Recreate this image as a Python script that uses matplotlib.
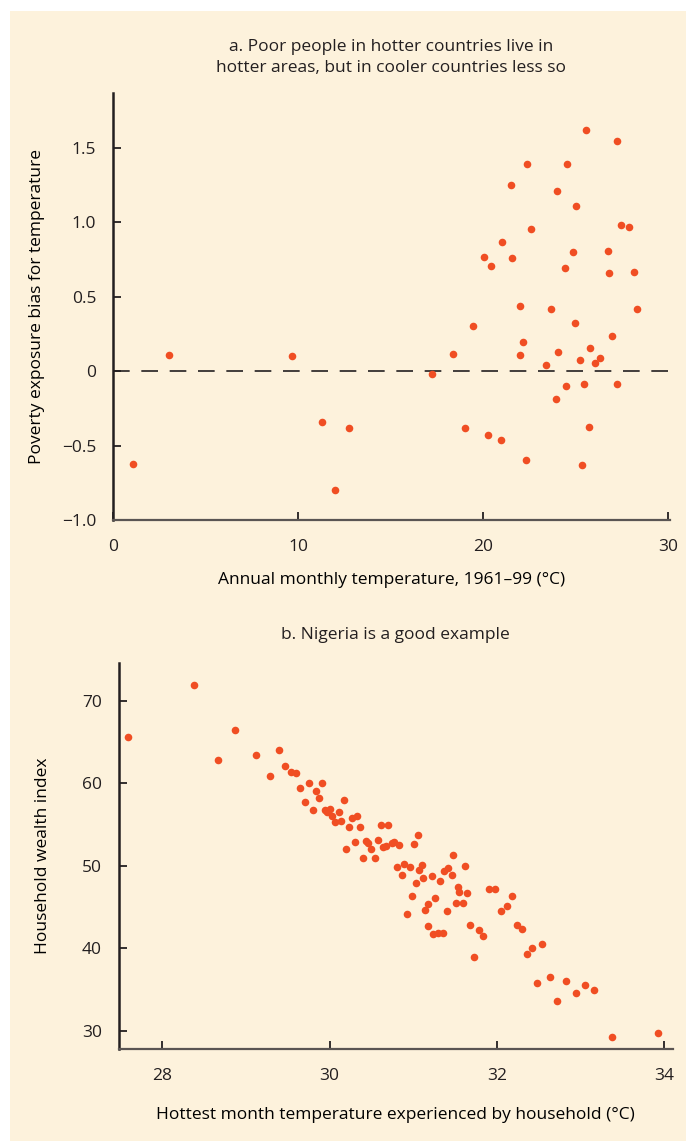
import numpy as np
import matplotlib.pyplot as plt
from matplotlib.patches import Rectangle

# panel a: country level
a_temp = [1.09, 3.05, 9.68, 11.27, 12.76, 11.97,
          25.54, 27.23, 22.38, 24.54, 21.52, 24.0, 25.0, 22.6, 27.46, 27.88,
          21.02, 20.03, 20.43, 21.58, 24.84, 24.41, 26.76, 26.78, 28.18, 28.29,
          22.0, 23.68, 24.97, 19.46, 26.94, 22.13, 18.36, 21.99, 24.03, 25.79,
          25.26, 26.31, 26.03, 23.41, 17.23, 24.48, 25.47, 27.23, 23.93, 19.01,
          20.26, 20.98, 25.70, 22.33, 25.33]
a_bias = [-0.625, 0.11, 0.103, -0.34, -0.383, -0.80,
          1.623, 1.545, 1.39, 1.394, 1.249, 1.213, 1.108, 0.955, 0.986, 0.968,
          0.87, 0.767, 0.706, 0.762, 0.80, 0.695, 0.811, 0.657, 0.666, 0.417,
          0.437, 0.415, 0.327, 0.307, 0.235, 0.195, 0.119, 0.108, 0.13, 0.155,
          0.076, 0.087, 0.052, 0.043, -0.02, -0.096, -0.083, -0.088, -0.188, -0.383,
          -0.426, -0.462, -0.372, -0.599, -0.63]

# panel b: Nigeria households
b_temp = [27.59, 28.38, 28.87, 28.67, 29.12, 29.39, 29.29, 29.47, 29.54, 29.60,
          29.65, 29.75, 29.91, 29.84, 29.71, 29.87, 29.80, 30.17, 29.95, 30.0,
          29.97, 30.03, 30.11, 30.06, 30.14, 30.27, 30.33, 30.23, 30.36, 30.2,
          30.30, 30.43, 30.46, 30.40, 30.50, 30.54, 30.58, 30.61, 30.70, 30.64,
          30.67, 30.75, 30.77, 30.83, 31.01, 31.06, 30.80, 30.89, 30.96, 30.86,
          31.10, 31.07, 31.03, 31.12, 31.22, 30.98, 30.92, 31.17, 31.14, 31.26,
          31.32, 31.37, 31.42, 31.46, 31.48, 31.62, 31.53, 31.55, 31.64, 31.51,
          31.59, 31.40, 31.18, 31.24, 31.30, 31.35, 31.68, 31.78, 31.83, 31.73,
          31.90, 31.98, 32.05, 32.12, 32.18, 32.24, 32.30, 32.36, 32.42, 32.54,
          32.48, 32.63, 32.72, 32.82, 32.94, 33.05, 33.16, 33.38, 33.93]
b_wealth = [65.6, 71.97, 66.5, 62.8, 63.4, 64.0, 60.95, 62.1, 61.4, 61.3,
            59.5, 60.0, 60.1, 59.1, 57.7, 58.2, 56.75, 58.0, 56.8, 56.9,
            56.55, 56.0, 56.5, 55.3, 55.4, 55.75, 56.0, 54.7, 54.66, 52.0,
            52.9, 53.0, 52.8, 50.9, 52.0, 51.0, 53.1, 54.9, 54.9, 52.3,
            52.4, 52.8, 52.85, 52.5, 52.6, 53.8, 49.9, 50.2, 49.9, 48.9,
            50.05, 49.45, 47.9, 48.5, 48.8, 46.3, 44.2, 45.4, 44.65, 46.1,
            48.2, 49.4, 49.7, 48.9, 51.3, 50.0, 47.4, 46.8, 46.7, 45.46,
            45.46, 44.5, 42.7, 41.8, 41.86, 41.9, 42.8, 42.2, 41.5, 39.0,
            47.15, 47.15, 44.5, 45.1, 46.4, 42.8, 42.4, 39.3, 40.0, 40.5,
            35.8, 36.5, 33.6, 36.1, 34.6, 35.6, 35.0, 29.2, 29.76]

bg = "#fdf2dc"
dot = "#f04e23"
ink = "#231f20"

plt.rcParams["font.family"] = ["Open Sans", "DejaVu Sans"]
plt.rcParams["font.size"] = 12.5
plt.rcParams["axes.titlesize"] = 12.5
plt.rcParams["text.color"] = ink
plt.rcParams["xtick.color"] = ink
plt.rcParams["ytick.color"] = ink

fig = plt.figure(figsize=(6.86, 11.41), dpi=100)
fig.patch.set_facecolor("white")
# beige panel behind both charts, white strip along top and left edge
fig.add_artist(Rectangle((10 / 686, 0), 676 / 686, 1130 / 1141,
                         transform=fig.transFigure, facecolor=bg, edgecolor="none", zorder=0))


def style(ax):
    ax.set_facecolor("none")
    for s in ["top", "right"]:
        ax.spines[s].set_visible(False)
    ax.spines["left"].set_linewidth(1.8)
    ax.spines["left"].set_color(ink)
    ax.spines["bottom"].set_linewidth(1.6)
    ax.spines["bottom"].set_color("#5a5553")
    ax.tick_params(direction="in", length=6, width=1.3)
    ax.tick_params(axis="x", pad=14)
    ax.tick_params(axis="y", pad=12)


ax1 = fig.add_axes([113 / 686, 1 - 520 / 1141, 557 / 686, 427 / 1141])
style(ax1)
ax1.axhline(0, color=ink, lw=1.2, dashes=(10, 7), zorder=1)
ax1.scatter(a_temp, a_bias, s=30, color=dot, linewidths=0, zorder=3)
ax1.set_xlim(0, 30.1)
ax1.set_ylim(-1.0, 1.87)
ax1.set_xticks([0, 10, 20, 30])
ax1.set_yticks([-1.0, -0.5, 0, 0.5, 1.0, 1.5])
ax1.set_yticklabels(["\u22121.0", "\u22120.5", "0", "0.5", "1.0", "1.5"])
ax1.set_xlabel("Annual monthly temperature, 1961\u201399 (\u00b0C)", labelpad=12)
ax1.set_ylabel("Poverty exposure bias for temperature", labelpad=12)
ax1.set_title("a. Poor people in hotter countries live in\nhotter areas, but in cooler countries less so",
              pad=15, linespacing=1.45)

ax2 = fig.add_axes([118.7 / 686, 1 - 1049 / 1141, 554 / 686, 386 / 1141])
style(ax2)
ax2.scatter(b_temp, b_wealth, s=30, color=dot, linewidths=0, zorder=3)
ax2.set_xlim(27.48, 34.1)
ax2.set_ylim(27.8, 74.6)
ax2.set_xticks([28, 30, 32, 34])
ax2.set_yticks([30, 40, 50, 60, 70])
ax2.set_xlabel("Hottest month temperature experienced by household (\u00b0C)", labelpad=16)
ax2.set_ylabel("Household wealth index", labelpad=22)
ax2.set_title("b. Nigeria is a good example", pad=17)

fig.savefig("out.png", dpi=100, facecolor=fig.get_facecolor())
